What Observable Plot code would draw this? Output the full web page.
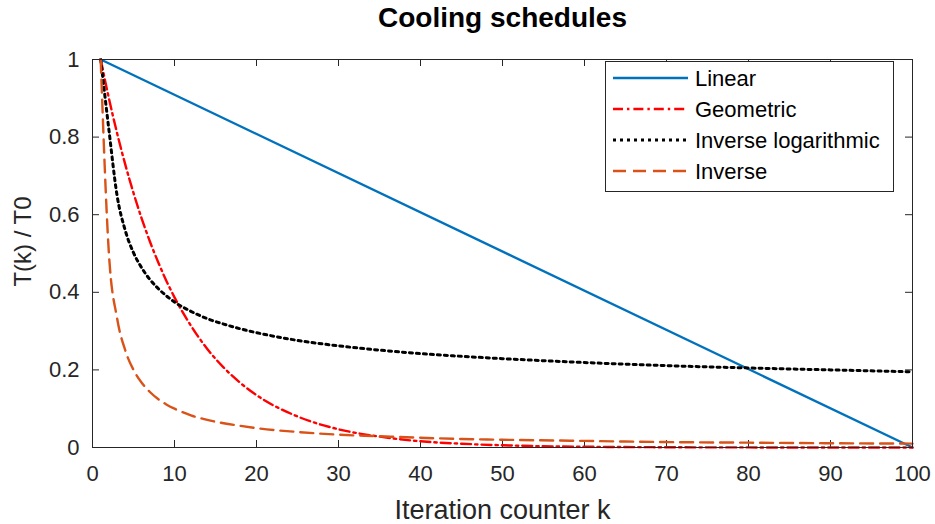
<!DOCTYPE html>
<html>
<head>
<meta charset="utf-8">
<script src="https://cdn.jsdelivr.net/npm/d3@7"></script>
<script src="https://cdn.jsdelivr.net/npm/@observablehq/plot@0.6"></script>
<style>
  body { margin: 0; background: #fff; }
  #chart { width: 935px; height: 524px; }
</style>
</head>
<body>
<div id="chart"></div>
<script>
// Iteration counter values where each schedule is sampled
const k = [1, 2, 3, 4, 5, 6, 7, 8, 9, 10, 12, 14, 16, 18, 20, 25, 30, 35, 40, 45, 50, 60, 70, 80, 90, 100];

// Normalised temperature T(k)/T0 for each cooling schedule
const linearK = [1, 100];
const linearT = [1, 0];
const geometricT = [1, 0.90, 0.81, 0.729, 0.656, 0.59, 0.531, 0.478, 0.43, 0.387, 0.314, 0.254, 0.206, 0.167, 0.135,
  0.080, 0.047, 0.028, 0.016, 0.0097, 0.0057, 0.002, 0.0007, 0.0002, 0.0001, 0.00003];
const inverseLogT = [1, 0.819, 0.649, 0.559, 0.502, 0.463, 0.433, 0.41, 0.391, 0.375, 0.351, 0.332, 0.318, 0.306, 0.296,
  0.276, 0.262, 0.251, 0.242, 0.235, 0.229, 0.219, 0.211, 0.205, 0.2, 0.195];
const inverseT = [1, 0.5, 0.333, 0.25, 0.2, 0.167, 0.143, 0.125, 0.111, 0.1, 0.083, 0.071, 0.0625, 0.056, 0.05,
  0.04, 0.033, 0.029, 0.025, 0.022, 0.02, 0.017, 0.014, 0.0125, 0.011, 0.01];

// Axis ticks
const xTicks = [0, 10, 20, 30, 40, 50, 60, 70, 80, 90, 100];
const yTicks = [0, 0.2, 0.4, 0.6, 0.8, 1];
const yTickLabels = ["0", "0.2", "0.4", "0.6", "0.8", "1"];

const seriesNames = ["Linear", "Geometric", "Inverse logarithmic", "Inverse"];
const titleText = "Cooling schedules";
const xLabel = "Iteration counter k";
const yLabel = "T(k) / T0";

// Line styles per schedule
const styles = {
  "Linear": {stroke: "#0072BD", strokeWidth: 2.4, dash: null},
  "Geometric": {stroke: "#FF0000", strokeWidth: 2.4, dash: "10,4,2.4,4"},
  "Inverse logarithmic": {stroke: "#000000", strokeWidth: 3, dash: "3,4"},
  "Inverse": {stroke: "#D95319", strokeWidth: 2.4, dash: "13,7"}
};

const rows = [];
linearK.forEach((kk, i) => rows.push({series: "Linear", k: kk, t: linearT[i]}));
k.forEach((kk, i) => rows.push({series: "Geometric", k: kk, t: geometricT[i]}));
k.forEach((kk, i) => rows.push({series: "Inverse logarithmic", k: kk, t: inverseLogT[i]}));
k.forEach((kk, i) => rows.push({series: "Inverse", k: kk, t: inverseT[i]}));

const W = 935, H = 524;
const mL = 92, mR = 23, mT = 59, mB = 77;
const innerW = W - mL - mR, innerH = H - mT - mB;
const tickLen = 7;
const axisColor = "#262626";
const font = "'Liberation Sans', Arial, Helvetica, sans-serif";

const lineMarks = seriesNames.map(name => {
  const s = styles[name];
  return Plot.line(rows.filter(d => d.series === name), {
    x: "k", y: "t",
    stroke: s.stroke, strokeWidth: s.strokeWidth,
    strokeDasharray: s.dash ?? undefined,
    curve: name === "Linear" ? "linear" : "monotone-x"
  });
});

const plot = Plot.plot({
  width: W, height: H,
  marginLeft: mL, marginRight: mR, marginTop: mT, marginBottom: mB,
  style: {fontFamily: font, fontSize: "22px", color: axisColor, background: "#fff"},
  x: {domain: [0, 100]},
  y: {domain: [0, 1]},
  marks: [
    // tick labels
    Plot.axisX({ticks: xTicks, tickSize: 0, tickPadding: 18, label: null, fontSize: 22}),
    Plot.axisY({ticks: yTicks, tickSize: 0, tickPadding: 13, label: null, fontSize: 22,
      tickFormat: d => yTickLabels[yTicks.indexOf(d)]}),
    // inward tick marks on all four sides
    Plot.tickX(xTicks, {x: d => d, insetTop: innerH - tickLen, stroke: axisColor, strokeWidth: 1}),
    Plot.tickX(xTicks, {x: d => d, insetBottom: innerH - tickLen, stroke: axisColor, strokeWidth: 1}),
    Plot.tickY(yTicks, {y: d => d, insetRight: innerW - tickLen, stroke: axisColor, strokeWidth: 1}),
    Plot.tickY(yTicks, {y: d => d, insetLeft: innerW - tickLen, stroke: axisColor, strokeWidth: 1}),
    ...lineMarks,
    Plot.frame({stroke: axisColor, strokeWidth: 1}),
    // title and axis labels
    Plot.text([titleText], {frameAnchor: "top", lineAnchor: "middle", textAnchor: "middle",
      dy: -41, fontSize: 28, fontWeight: "bold", fill: "#000"}),
    Plot.text([xLabel], {frameAnchor: "bottom", lineAnchor: "middle", textAnchor: "middle",
      dy: 63, fontSize: 27, fill: axisColor}),
    Plot.text([yLabel], {frameAnchor: "left", lineAnchor: "middle", textAnchor: "middle",
      dx: -69, dy: -12, rotate: -90, fontSize: 24, fill: axisColor})
  ]
});

document.getElementById("chart").appendChild(plot);

// Legend box in the upper-right corner of the axes
const svg = d3.select(plot);
const box = {x0: 605, x1: 893, y0: 61, y1: 191};
const rowY0 = 78, rowStep = 31;
const leg = svg.append("g")
  .attr("font-family", font).attr("font-size", 22).attr("text-anchor", "start");
leg.append("rect")
  .attr("x", box.x0 + 0.5).attr("y", box.y0 + 0.5)
  .attr("width", box.x1 - box.x0).attr("height", box.y1 - box.y0)
  .attr("fill", "#fff").attr("stroke", axisColor).attr("stroke-width", 1);
seriesNames.forEach((name, i) => {
  const s = styles[name];
  const y = rowY0 + i * rowStep;
  leg.append("line")
    .attr("x1", 613).attr("x2", 688).attr("y1", y).attr("y2", y)
    .attr("stroke", s.stroke).attr("stroke-width", s.strokeWidth)
    .attr("stroke-dasharray", s.dash);
  leg.append("text")
    .attr("x", 695).attr("y", y).attr("dy", "0.35em")
    .attr("text-anchor", "start")
    .attr("fill", "#000").text(name);
});
</script>
</body>
</html>
